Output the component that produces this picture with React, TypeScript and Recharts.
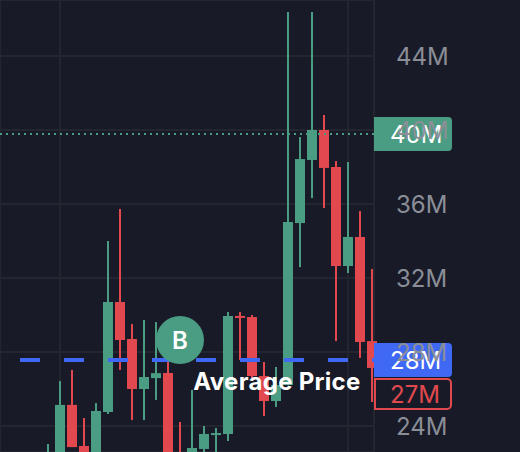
import React from 'react';
import {
  Bar,
  CartesianGrid,
  Cell,
  ComposedChart,
  Label,
  ReferenceDot,
  ReferenceLine,
  XAxis,
  YAxis,
} from 'recharts';

const BG = '#181b27';
const GRID = '#24262f';
const UP = '#4a9c82';
const DOWN = '#e2494f';
const BLUE = '#3f68f5';
const AXIS_TEXT = '#8b8e97';
const FONT = 'Inter, sans-serif';

// one entry per candle, prices in millions
const slots = [4, 5, 6, 7, 8, 9, 10, 11, 12, 13, 14, 15, 16, 17, 18, 19, 20, 21, 22, 23, 24, 25, 26, 27, 28, 29, 30, 31];
const opens = [21.6, 22.0, 25.14, 22.92, 21.9, 24.76, 30.7, 28.7, 26.0, 26.59, 26.86, 22.3, 21.9, 22.76, 23.51, 23.57, 29.95, 29.89, 26.7, 25.35, 26.22, 34.97, 38.38, 40.0, 38.0, 32.65, 34.22, 28.59];
const closes = [22.2, 25.14, 22.86, 21.8, 24.81, 30.7, 28.65, 26.0, 26.65, 26.86, 21.8, 21.9, 22.81, 23.57, 23.62, 29.95, 29.84, 26.7, 25.35, 26.22, 35.03, 38.43, 40.0, 37.95, 32.65, 34.22, 28.54, 27.14];
const highs = [23.03, 26.43, 27.03, 24.43, 25.24, 34.0, 35.73, 29.51, 29.73, 29.62, 28.5, 24.22, 25.95, 24.0, 23.89, 30.16, 30.16, 30.0, 27.46, 27.19, 46.38, 39.62, 46.38, 40.81, 38.32, 38.27, 35.62, 32.49];
const lows = [21.2, 21.4, 22.86, 21.3, 21.4, 24.65, 27.03, 24.32, 24.32, 25.41, 21.4, 21.5, 21.5, 21.9, 22.2, 23.19, 27.57, 26.6, 24.54, 25.03, 26.2, 32.59, 36.32, 35.78, 28.59, 32.27, 27.68, 25.3];

const priceTicks = [24, 28, 32, 36, 40, 44];
const gridSlots = [5, 29];
const lastPrice = 39.78;
const averagePrice = 27.57;
const askPrice = 25.73;

const chartData = slots.map((slot, i) => ({
  slot,
  wick: [lows[i], highs[i]],
  body: [Math.min(opens[i], closes[i]), Math.max(opens[i], closes[i])],
  up: closes[i] >= opens[i],
}));

const PriceTag = ({ viewBox, text, fill, stroke, color }: any) => {
  const y = viewBox.y;
  const h = stroke ? 30 : 34;
  const w = stroke ? 76 : 78;
  const left = stroke ? 375 : 374;
  const d = `M${left} ${y - h / 2}h${w - 4}a4 4 0 0 1 4 4v${h - 8}a4 4 0 0 1 -4 4h-${w - 4}z`;
  return (
    <g>
      <path d={d} fill={fill} stroke={stroke || 'none'} strokeWidth={2} />
      <text x={390} y={y + 9} fill={color} fontFamily={FONT} fontSize={24}>
        {text}
      </text>
    </g>
  );
};

const App: React.FC = () => {
  return (
    <div style={{ position: 'absolute', left: 0, top: 0, width: 520, height: 452, background: BG, overflow: 'hidden' }}>
      <ComposedChart
        width={520}
        height={452}
        data={chartData}
        margin={{ top: 0, right: 0, bottom: 0, left: 0 }}
      >
        <CartesianGrid stroke={GRID} strokeWidth={2} xAxisId="wick" yAxisId="price" />
        <XAxis xAxisId="wick" dataKey="slot" type="number" domain={[0, 31.1667]} ticks={gridSlots} hide />
        <XAxis xAxisId="body" dataKey="slot" type="number" domain={[0, 31.1667]} ticks={gridSlots} hide />
        <YAxis
          yAxisId="price"
          orientation="right"
          domain={[22.595, 47.027]}
          allowDataOverflow
          ticks={priceTicks}
          width={146}
          axisLine={false}
          tickLine={false}
          interval={0}
          tickMargin={16}
          tick={{ fill: AXIS_TEXT, fontSize: 24, fontFamily: FONT }}
          tickFormatter={(v: number) => `${v}M`}
        />
        <Bar xAxisId="wick" yAxisId="price" dataKey="wick" barSize={2} isAnimationActive={false}>
          {chartData.map((d) => (
            <Cell key={d.slot} fill={d.up ? UP : DOWN} />
          ))}
        </Bar>
        <Bar xAxisId="body" yAxisId="price" dataKey="body" barSize={10} isAnimationActive={false}>
          {chartData.map((d) => (
            <Cell key={d.slot} fill={d.up ? UP : DOWN} />
          ))}
        </Bar>
        <ReferenceLine
          xAxisId="wick"
          yAxisId="price"
          y={lastPrice}
          stroke={UP}
          strokeWidth={2}
          strokeDasharray="2 4"
          label={<PriceTag text="40M" fill={UP} color="#ffffff" />}
        />
        <ReferenceLine
          xAxisId="wick"
          yAxisId="price"
          y={averagePrice}
          stroke={BLUE}
          strokeWidth={4}
          strokeDasharray="20 24"
          strokeDashoffset={18}
          label={<PriceTag text="28M" fill={BLUE} color="#ffffff" />}
        />
        <ReferenceLine
          xAxisId="wick"
          yAxisId="price"
          y={askPrice}
          stroke="none"
          label={<PriceTag text="27M" fill={BG} stroke={DOWN} color={DOWN} />}
        />
        <ReferenceDot xAxisId="wick" yAxisId="price" x={15} y={28.65} r={24} fill={UP} stroke="none">
          <Label value="B" position="center" fill="#ffffff" fontSize={24} fontWeight={600} fontFamily={FONT} />
        </ReferenceDot>
        <ReferenceDot xAxisId="wick" yAxisId="price" x={23.08} y={26.43} r={0} fill="none" stroke="none">
          <Label value="Average Price" position="center" fill="#ffffff" fontSize={24} fontWeight={700} letterSpacing={0.3} fontFamily={FONT} />
        </ReferenceDot>
      </ComposedChart>
    </div>
  );
};

export default App;
